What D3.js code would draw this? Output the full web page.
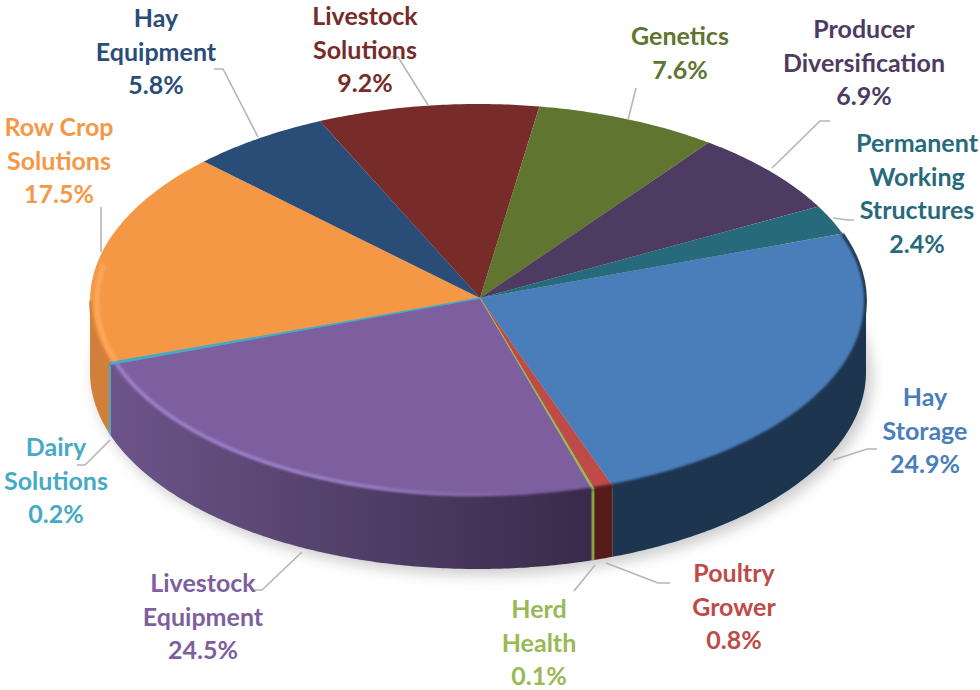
<!DOCTYPE html>
<html>
<head>
<meta charset="utf-8">
<script src="https://cdn.jsdelivr.net/npm/d3@7"></script>
<style>
  html, body { margin: 0; padding: 0; background: #fff; }
  svg { display: block; }
  text { font-family: Lato, "Open Sans", sans-serif; font-weight: 700; font-size: 25px; text-anchor: middle; dominant-baseline: central; }
</style>
</head>
<body>
<div id="chart"></div>
<script>
// slices run clockwise, first one starts at the permanent working structures edge
const categories = ['Hay Storage', 'Poultry Grower', 'Herd Health', 'Livestock Equipment', 'Dairy Solutions',
  'Row Crop Solutions', 'Hay Equipment', 'Livestock Solutions', 'Genetics', 'Producer Diversification', 'Permanent Working Structures'];
const shares = [24.9, 0.8, 0.1, 24.5, 0.2, 17.5, 5.8, 9.2, 7.6, 6.9, 2.4];
const shareLabels = ['24.9%', '0.8%', '0.1%', '24.5%', '0.2%', '17.5%', '5.8%', '9.2%', '7.6%', '6.9%', '2.4%'];

const topColors = ['#4a7ebb', '#be4b48', '#98b954', '#7d5fa0', '#46aac5', '#f59846', '#2a4d78', '#772c2a', '#5f7530', '#4d3b62', '#276a7c'];
const wallLeft = ['#1e3550', '#561c1a', '#7f9c3f', '#6c5489', '#46aac5', '#d0803a', '#1e3550', '#5c1f1c', '#4a5c26', '#3a2c4a', '#1c4e5c'];
const wallRight = ['#1e3550', '#561c1a', '#7f9c3f', '#392a4a', '#46aac5', '#d0803a', '#1e3550', '#5c1f1c', '#4a5c26', '#3a2c4a', '#1c4e5c'];

// label text lines, centre x, first line y, then the leader polyline
const labelLines = [
  ['Hay', 'Storage'], ['Poultry', 'Grower'], ['Herd', 'Health'], ['Livestock', 'Equipment'], ['Dairy', 'Solutions'],
  ['Row Crop', 'Solutions'], ['Hay', 'Equipment'], ['Livestock', 'Solutions'], ['Genetics'], ['Producer', 'Diversification'],
  ['Permanent', 'Working', 'Structures']
];
const labelX = [925, 734, 539, 203, 56, 59, 156, 365, 680, 864, 917];
const labelY = [396, 572, 608, 582, 446, 126, 17, 15, 35, 28, 142];
const leaders = [
  [[833, 460], [867, 449], [877, 449]],
  [[606, 563], [658, 583], [670, 583]],
  [[595, 565], [574, 591]],
  [[302, 552], [262, 590], [252, 590]],
  [[110, 440], [85, 465], [77, 465]],
  [[101, 252], [101, 207]],
  [[258, 137], [223, 69], [214, 69]],
  [[428, 105], [398, 57], [388, 57]],
  [[628, 120], [636, 88]],
  [[772, 168], [820, 121], [830, 121]],
  [[833, 218], [848, 220], [854, 220]]
];

const svgWidth = 980, svgHeight = 690;
const cx = 478, cy = 301, rx = 388, ry = 197, depth = 71;
const apex = [480, 298];
const lineHeight = 33.7;
const halfPi = Math.PI / 2;

const svg = d3.select('#chart').append('svg').attr('width', svgWidth).attr('height', svgHeight);
const defs = svg.append('defs');

defs.append('filter').attr('id', 'shadow').attr('x', '-20%').attr('y', '-20%').attr('width', '140%').attr('height', '140%')
  .append('feGaussianBlur').attr('stdDeviation', 7);
defs.append('filter').attr('id', 'soft').attr('filterUnits', 'userSpaceOnUse')
  .attr('x', 0).attr('y', 0).attr('width', svgWidth).attr('height', svgHeight)
  .append('feGaussianBlur').attr('stdDeviation', 1.3);

const xPos = d3.scaleLinear().domain([-1, 1]).range([cx - rx, cx + rx]);
const yPos = d3.scaleLinear().domain([-1, 1]).range([cy - ry, cy + ry]);

// angle starts at Hay Storage's back edge (about 70deg clockwise from top)
const startAngle = 70 * Math.PI / 180;
const pie = d3.pie().sort(null).startAngle(startAngle).endAngle(startAngle + 2 * Math.PI);
const slices = pie(shares);

const rimPoint = (a, k) => [xPos(k * Math.sin(a)), yPos(-k * Math.cos(a))];
const line = d3.line();

function arcPoints(a0, a1, k) {
  const n = Math.max(2, Math.ceil((a1 - a0) / 0.01));
  return d3.range(n + 1).map(i => rimPoint(a0 + (a1 - a0) * i / n, k));
}

// soft shadow under the disc
svg.append('ellipse')
  .attr('cx', cx + 5).attr('cy', cy + depth + 5).attr('rx', rx + 1).attr('ry', ry + 1)
  .attr('fill', '#9a9a9a').attr('opacity', 0.5).attr('filter', 'url(#shadow)');

// front wall, only the part that faces us (clock angles 90 to 270)
const walls = svg.append('g');
slices.forEach((s, i) => {
  const a0 = Math.max(s.startAngle, halfPi);
  const a1 = Math.min(s.endAngle, 3 * halfPi);
  if (a1 <= a0) return;
  const top = arcPoints(a0, a1, 1);
  const bottom = top.map(p => [p[0], p[1] + depth]).reverse();
  const gradId = 'wall' + i;
  const grad = defs.append('linearGradient').attr('id', gradId)
    .attr('gradientUnits', 'userSpaceOnUse')
    .attr('x1', top[top.length - 1][0]).attr('x2', top[0][0]).attr('y1', 0).attr('y2', 0);
  grad.append('stop').attr('offset', 0).attr('stop-color', wallLeft[i]);
  grad.append('stop').attr('offset', 1).attr('stop-color', wallRight[i]);
  walls.append('path')
    .attr('d', line(top.concat(bottom)) + 'Z')
    .attr('fill', `url(#${gradId})`)
    .attr('stroke', shares[i] < 0.5 ? topColors[i] : 'none')
    .attr('stroke-width', 0.8);
});

// top face, each slice fans out from the apex, which sits a little off the ellipse centre
const face = svg.append('g');
face.selectAll('path').data(slices).join('path')
  .attr('d', d => line([apex].concat(arcPoints(d.startAngle, d.endAngle, 1))) + 'Z')
  .attr('fill', (d, i) => topColors[i])
  .attr('stroke', (d, i) => shares[i] < 0.5 ? topColors[i] : 'none')
  .attr('stroke-width', 0.9);

// blurred dark edge where the top meets the wall
defs.append('clipPath').attr('id', 'faceClip').append('ellipse')
  .attr('cx', cx).attr('cy', cy).attr('rx', rx + 1).attr('ry', ry + 4);
const rims = svg.append('g').attr('clip-path', 'url(#faceClip)');
slices.forEach((s, i) => {
  const a0 = Math.max(s.startAngle, i === 0 ? s.startAngle : halfPi);
  const a1 = Math.min(s.endAngle, 3 * halfPi);
  if (a1 <= a0 || shares[i] < 0.5) return;
  rims.append('path')
    .attr('d', line(arcPoints(a0, a1, 1)))
    .attr('fill', 'none')
    .attr('stroke', i === 0 || i === 3 ? `url(#wall${i})` : wallLeft[i])
    .attr('stroke-width', 4)
    .attr('filter', 'url(#soft)');
});

// light bevel on the purple and orange slices, strongest on the left, gone before the front
const purpleFade = defs.append('linearGradient').attr('id', 'purpleFade')
  .attr('gradientUnits', 'userSpaceOnUse').attr('x1', 115).attr('x2', 540).attr('y1', 0).attr('y2', 0);
purpleFade.append('stop').attr('offset', 0).attr('stop-color', '#9d80c8').attr('stop-opacity', 1);
purpleFade.append('stop').attr('offset', 0.55).attr('stop-color', '#9d80c8').attr('stop-opacity', 0.9);
purpleFade.append('stop').attr('offset', 1).attr('stop-color', '#9d80c8').attr('stop-opacity', 0);
rims.append('path')
  .attr('d', line(arcPoints(slices[3].startAngle, slices[3].endAngle, 0.984)))
  .attr('fill', 'none').attr('stroke', 'url(#purpleFade)').attr('stroke-width', 3.5).attr('filter', 'url(#soft)');
rims.append('path')
  .attr('d', line(arcPoints(slices[5].startAngle, 4.9, 0.982)))
  .attr('fill', 'none').attr('stroke', '#ffa95c').attr('stroke-width', 5).attr('opacity', 0.8).attr('filter', 'url(#soft)');

// the hairline dairy and herd slices sit above the bevel
slices.forEach((s, i) => {
  if (shares[i] >= 0.5) return;
  const edge = rimPoint(s.startAngle, 1);
  rims.append('path')
    .attr('d', line([apex, edge]))
    .attr('stroke', topColors[i]).attr('stroke-width', i === 4 ? 1.5 : 0.9).attr('fill', 'none');
});

// leader lines
svg.append('g').selectAll('path').data(leaders).join('path')
  .attr('d', d => line(d))
  .attr('fill', 'none')
  .attr('stroke', '#b5b5b5')
  .attr('stroke-width', 1.6);

// labels
categories.forEach((c, i) => {
  const rows = labelLines[i].concat(shareLabels[i]);
  const t = svg.append('text').attr('fill', topColors[i]);
  rows.forEach((r, j) => {
    t.append('tspan').attr('x', labelX[i]).attr('y', labelY[i] + j * lineHeight).text(r);
  });
});
</script>
</body>
</html>
